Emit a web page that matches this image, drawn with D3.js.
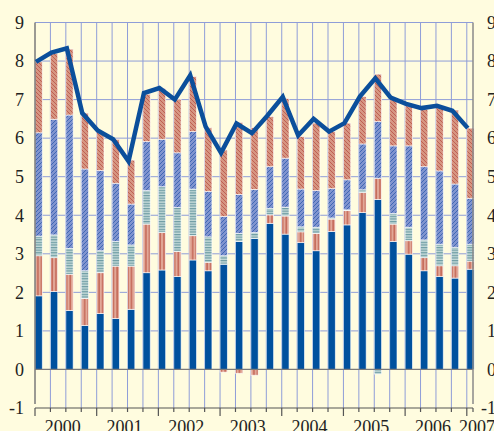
<!DOCTYPE html>
<html><head><meta charset="utf-8">
<script src="https://cdn.jsdelivr.net/npm/d3@7"></script>
<style>html,body{margin:0;padding:0;background:#fffcdf;overflow:hidden} svg{display:block}</style>
</head><body><svg id="c" width="494" height="431"></svg>
<script>
const quarters = ["2000Q1","2000Q2","2000Q3","2000Q4","2001Q1","2001Q2","2001Q3","2001Q4",
  "2002Q1","2002Q2","2002Q3","2002Q4","2003Q1","2003Q2","2003Q3","2003Q4",
  "2004Q1","2004Q2","2004Q3","2004Q4","2005Q1","2005Q2","2005Q3","2005Q4",
  "2006Q1","2006Q2","2006Q3","2006Q4","2007Q1"];
const years = ["2000","2001","2002","2003","2004","2005","2006","2007"];
const yTicks = [-1,0,1,2,3,4,5,6,7,8,9];

// series (bottom to top)
const solidBlue = [1.91,2.02,1.53,1.14,1.45,1.32,1.56,2.51,2.58,2.41,2.84,2.56,2.73,3.32,3.40,3.79,3.51,3.29,3.08,3.58,3.75,4.07,4.41,3.32,2.99,2.56,2.41,2.37,2.60];
const redVertical = [1.04,0.88,0.94,0.70,1.06,1.36,1.12,1.26,0.97,0.65,0.63,0.22,-0.07,-0.10,-0.15,0.22,0.47,0.28,0.45,0.32,0.37,0.52,0.55,0.45,0.35,0.34,0.28,0.32,0.21];
const tealHorizontal = [0.51,0.59,0.67,0.72,0.57,0.64,0.55,0.87,1.19,1.14,1.21,0.66,0.22,0.21,0.15,0.17,0.23,0.13,0.16,0.03,0.02,0.07,-0.12,0.28,0.35,0.46,0.56,0.48,0.44];
const blueDiagonal = [2.68,3.00,3.46,2.64,2.08,1.51,1.06,1.27,1.23,1.42,1.49,1.18,1.02,1.01,1.12,1.08,1.27,0.98,0.95,0.76,0.78,1.19,1.47,1.75,2.11,1.90,1.90,1.64,1.19];
const redDiagonal = [1.84,1.71,1.71,1.45,1.01,1.14,1.14,1.23,1.32,1.39,1.43,1.65,1.72,1.87,1.60,1.30,1.55,1.36,1.75,1.48,1.47,1.23,1.23,1.22,1.04,1.49,1.65,1.92,1.82];
const total = [7.98,8.22,8.33,6.65,6.20,5.97,5.40,7.17,7.30,7.00,7.63,6.30,5.62,6.38,6.13,6.58,7.07,6.07,6.50,6.17,6.39,7.08,7.55,7.05,6.89,6.78,6.84,6.71,6.26];

const W = 494, H = 431;
const svg = d3.select("#c");
svg.append("rect").attr("width", W).attr("height", H).attr("fill", "#fffcdf");

const defs = svg.append("defs");
function pat(id, w, h, bg, draw) {
  const p = defs.append("pattern").attr("id", id).attr("patternUnits", "userSpaceOnUse")
    .attr("width", w).attr("height", h);
  p.append("rect").attr("width", w).attr("height", h).attr("fill", bg);
  draw(p);
}
pat("pRedDiag", 4, 4, "#d69682", p => {
  p.append("path").attr("d", "M-1,-1 L5,5 M-1,3 L1,5 M3,-1 L5,1").attr("stroke", "#b5473f").attr("stroke-width", 0.7);
});
pat("pBlueDiag", 4, 4, "#8094cf", p => {
  p.append("path").attr("d", "M-1,5 L5,-1 M-1,1 L1,-1 M3,5 L5,3").attr("stroke", "#2453a8").attr("stroke-width", 0.7);
});
pat("pTeal", 4, 2.6, "#c4dad8", p => {
  p.append("rect").attr("y", 0).attr("width", 4).attr("height", 1.2).attr("fill", "#6e9ca4");
});
pat("pRedVert", 3.6, 4, "#e2a898", p => {
  p.append("rect").attr("x", 1.2).attr("width", 1.4).attr("height", 4).attr("fill", "#c26453");
});

const x = d3.scaleBand().domain(quarters).range([35, 474.1]).paddingInner(0.527).paddingOuter(0).align(0);
const y = d3.scaleLinear().domain([-1, 9]).range([408, 22.5]);
const step = x.step(), bw = x.bandwidth();
const xL = 35, xR = 473;

// gridlines
const grid = svg.append("g");
grid.selectAll(".hg").data(yTicks.filter(v => v > 0)).join("line")
  .attr("x1", xL).attr("x2", xR).attr("y1", d => y(d)).attr("y2", d => y(d))
  .attr("stroke", "#8f9dd8").attr("stroke-width", 1);
grid.selectAll(".vg").data(quarters.slice(1)).join("line")
  .attr("x1", d => x(d)).attr("x2", d => x(d)).attr("y1", y(9)).attr("y2", y(-1))
  .attr("stroke", "#8f9dd8").attr("stroke-width", 1);

// bars
const table = quarters.map((q, i) => ({q, a: solidBlue[i], b: redVertical[i], c: tealHorizontal[i], d: blueDiagonal[i], e: redDiagonal[i]}));
const keys = ["a", "b", "c", "d", "e"];
const fills = {a: "#00519e", b: "url(#pRedVert)", c: "url(#pTeal)", d: "url(#pBlueDiag)", e: "url(#pRedDiag)"};
const stack = d3.stack().keys(keys).offset(d3.stackOffsetDiverging)(table);
const bars = svg.append("g");
stack.forEach(s => {
  bars.selectAll(null).data(s.filter(d => d[1] !== d[0])).join("rect")
    .attr("x", d => x(d.data.q))
    .attr("width", bw)
    .attr("y", d => y(Math.max(d[0], d[1])))
    .attr("height", d => Math.abs(y(d[0]) - y(d[1])))
    .attr("fill", fills[s.key])
    .attr("stroke", "#ffffff").attr("stroke-opacity", 0.75).attr("stroke-width", 0.8);
});

// axes lines
svg.append("line").attr("x1", xL).attr("x2", xR).attr("y1", y(0)).attr("y2", y(0)).attr("stroke", "#7a7a7a").attr("stroke-width", 1.2);
svg.append("line").attr("x1", xL).attr("x2", xL).attr("y1", y(9)).attr("y2", y(-1) - 4).attr("stroke", "#7a7a7a").attr("stroke-width", 1.5);
svg.append("line").attr("x1", xR).attr("x2", xR).attr("y1", y(9)).attr("y2", y(-1) - 4).attr("stroke", "#8a8a8a").attr("stroke-width", 1.5);

// bottom time axis
const tb = svg.append("g");
tb.append("line").attr("x1", xL).attr("x2", xR).attr("y1", y(-1)).attr("y2", y(-1)).attr("stroke", "#555").attr("stroke-width", 1.2);
tb.selectAll(null).data(quarters).join("line")
  .attr("x1", d => x(d)).attr("x2", d => x(d))
  .attr("y1", y(-1)).attr("y2", d => y(-1) + (d.endsWith("Q1") ? 8 : 4))
  .attr("stroke", "#555").attr("stroke-width", 1.2);
tb.append("line").attr("x1", xR).attr("x2", xR).attr("y1", y(-1)).attr("y2", y(-1) + 4).attr("stroke", "#555").attr("stroke-width", 1.2);

// total line
const line = d3.line().x((d, i) => x(quarters[i]) + 1).y(d => y(d));
svg.append("path").datum(total).attr("d", line).attr("fill", "none")
  .attr("stroke", "#0b4f9b").attr("stroke-width", 4.5).attr("stroke-linejoin", "miter");

// y labels
const font = "Liberation Serif, Times New Roman, serif";
svg.selectAll(".yl").data(yTicks).join("text")
  .attr("x", 24).attr("y", d => y(d)).attr("dy", "0.35em").attr("text-anchor", "end")
  .attr("font-family", font).attr("font-size", 18).attr("fill", "#222")
  .text(d => d);
svg.selectAll(".yr").data(yTicks).join("text")
  .attr("x", 496).attr("y", d => y(d)).attr("dy", "0.35em").attr("text-anchor", "end")
  .attr("font-family", font).attr("font-size", 18).attr("fill", "#222")
  .text(d => d);

// year labels
svg.selectAll(".yr2").data(years).join("text")
  .attr("x", (d, i) => i === years.length - 1 ? W + 1 : x(d + "Q1") + 1.5 * step + bw / 2 + 1)
  .attr("text-anchor", (d, i) => i === years.length - 1 ? "end" : "middle")
  .attr("y", 433)
  .attr("font-family", font).attr("font-size", 18).attr("fill", "#222")
  .text(d => d);
</script></body></html>
